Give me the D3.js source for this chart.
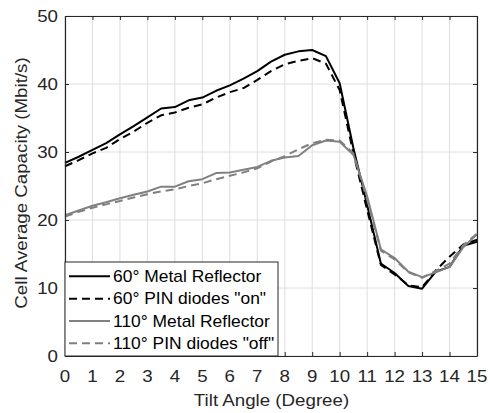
<!DOCTYPE html>
<html>
<head>
<meta charset="utf-8">
<script src="https://cdn.jsdelivr.net/npm/d3@7"></script>
<style>
  body { margin: 0; background: #fff; }
  svg { display: block; font-family: "Liberation Sans", Arial, Helvetica, sans-serif; }
</style>
</head>
<body>
<svg id="chart" width="493" height="413"></svg>
<script>
const tilt = [0,0.5,1,1.5,2,2.5,3,3.5,4,4.5,5,5.5,6,6.5,7,7.5,8,8.5,9,9.5,10,10.5,11,11.5,12,12.5,13,13.5,14,14.5,15];
const metal60 = [28.4,29.3,30.3,31.3,32.6,33.8,35.1,36.4,36.6,37.6,38.0,39.0,39.8,40.8,41.9,43.3,44.3,44.8,45.0,44.1,40.1,30.6,22.2,13.6,12.2,10.3,9.9,12.4,13.1,16.2,16.8];
const pinOn60 = [27.9,28.8,29.8,30.6,31.9,33.0,34.3,35.4,35.8,36.5,37.0,38.0,38.8,39.4,40.6,41.9,42.9,43.4,43.8,43.0,39.1,29.8,21.5,13.4,12.0,10.4,10.1,12.6,14.6,16.4,17.1];
const metal110 = [20.7,21.4,22.1,22.6,23.2,23.7,24.2,24.9,24.9,25.7,26.0,26.9,27.0,27.4,27.8,28.7,29.2,29.4,31.0,31.7,31.5,29.6,23.5,15.7,14.4,12.4,11.6,12.3,13.1,16.0,17.9];
const pinOff110 = [20.5,21.2,21.8,22.3,22.8,23.3,23.8,24.2,24.5,25.0,25.4,26.0,26.5,27.0,27.6,28.6,29.4,30.4,31.3,31.8,31.7,29.8,23.0,15.5,14.2,12.3,11.5,12.5,13.6,16.3,18.0];
const seriesNames = ['60° Metal Reflector','60° PIN diodes "on"','110° Metal Reflector','110° PIN diodes "off"'];
const seriesColors = ['#000000','#000000','#808080','#808080'];
const seriesDash = [null,'8,5',null,'8,5'];
const xTicks = d3.range(0,16,1);
const yTicks = [0,10,20,30,40,50];

const svg = d3.select('#chart');
const L = 65, R = 477, T = 16, B = 356;
const FS = '16px';
const x = d3.scaleLinear().domain([0,15]).range([L,R]);
const y = d3.scaleLinear().domain([0,50]).range([B,T]);

function txt(parent, px, py, s, anchor, rot, color, sx) {
  return parent.append('text')
    .attr('transform', `translate(${px},${py})` + (rot ? ` rotate(${rot})` : '') + ` scale(${sx || 1.17},1)`)
    .attr('text-anchor', anchor).attr('fill', color || '#262626')
    .style('font-size', FS).text(s);
}

// grid
const g = svg.append('g');
g.selectAll('.vg').data(xTicks).enter().append('line')
  .attr('x1',d=>x(d)).attr('x2',d=>x(d)).attr('y1',T).attr('y2',B)
  .attr('stroke','#dedede').attr('stroke-width',1);
g.selectAll('.hg').data(yTicks).enter().append('line')
  .attr('x1',L).attr('x2',R).attr('y1',d=>y(d)).attr('y2',d=>y(d))
  .attr('stroke','#dedede').attr('stroke-width',1);

// lines
const all = [metal60,pinOn60,metal110,pinOff110];
const line = d3.line().x((d,i)=>x(tilt[i])).y(d=>y(d));
all.forEach((s,k)=>{
  svg.append('path').datum(s).attr('d',line)
    .attr('fill','none').attr('stroke',seriesColors[k]).attr('stroke-width',2)
    .attr('stroke-dasharray',seriesDash[k]).attr('stroke-linejoin','round');
});

// axes (MATLAB-style, inward ticks); labels drawn separately
const xb = svg.append('g').attr('transform',`translate(0,${B})`)
  .call(d3.axisBottom(x).tickValues(xTicks).tickSizeInner(-4).tickSizeOuter(0).tickFormat(''));
const xt = svg.append('g').attr('transform',`translate(0,${T})`)
  .call(d3.axisTop(x).tickValues(xTicks).tickSizeInner(-4).tickSizeOuter(0).tickFormat(''));
const yl = svg.append('g').attr('transform',`translate(${L},0)`)
  .call(d3.axisLeft(y).tickValues(yTicks).tickSizeInner(-4).tickSizeOuter(0).tickFormat(''));
const yr = svg.append('g').attr('transform',`translate(${R},0)`)
  .call(d3.axisRight(y).tickValues(yTicks).tickSizeInner(-4).tickSizeOuter(0).tickFormat(''));
[xb,xt,yl,yr].forEach(a=>{
  a.select('.domain').attr('stroke','#262626').attr('stroke-width',1.2);
  a.selectAll('.tick line').attr('stroke','#262626');
});

// tick labels
const tl = svg.append('g');
xTicks.forEach(t => txt(tl, x(t), 382, String(t), 'middle'));
yTicks.forEach(t => txt(tl, 58, y(t) + 5.7, String(t), 'end'));

// axis labels
txt(svg, 271.5, 406, 'Tilt Angle (Degree)', 'middle');
txt(svg, 27, 183, 'Cell Average Capacity (Mbit/s)', 'middle', -90);

// legend
const lg = svg.append('g');
lg.append('rect').attr('x',L).attr('y',262).attr('width',213).attr('height',B-262)
  .attr('fill','#fff').attr('stroke','#262626').attr('stroke-width',1);
seriesNames.forEach((n,k)=>{
  const yy = 276.3 + k*22.35;
  lg.append('line').attr('x1',69).attr('x2',110).attr('y1',yy).attr('y2',yy)
    .attr('stroke',seriesColors[k]).attr('stroke-width',2).attr('stroke-dasharray',seriesDash[k]);
  txt(lg, 113, yy + 5.7, n, 'start', 0, '#000', 1.09);
});
</script>
</body>
</html>
